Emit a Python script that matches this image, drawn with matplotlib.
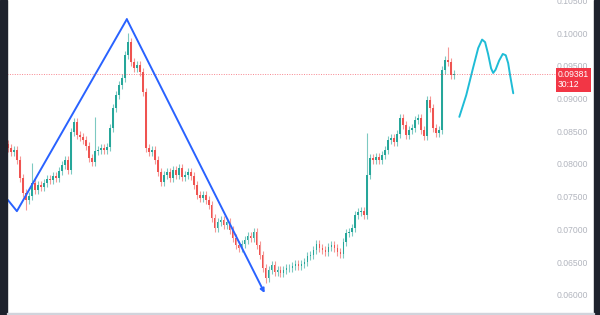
import matplotlib
matplotlib.use("Agg")
import matplotlib.pyplot as plt
from matplotlib.patches import Rectangle

# cours de cloture, une bougie par pas
closes = [0.0824, 0.0818, 0.0821, 0.0806, 0.0779, 0.0756, 0.0745, 0.0751, 0.0771, 0.0760,
          0.0768, 0.0765, 0.0771, 0.0777, 0.0776, 0.0782, 0.0779, 0.0789, 0.0798, 0.0806,
          0.0791, 0.0849, 0.0864, 0.0844, 0.0841, 0.0837, 0.0827, 0.0809, 0.0803, 0.0820,
          0.0821, 0.0824, 0.0821, 0.0826, 0.0855, 0.0885, 0.0905, 0.0921, 0.0931, 0.0966,
          0.0986, 0.0956, 0.0947, 0.0951, 0.0940, 0.0910, 0.0824, 0.0818, 0.0821, 0.0806,
          0.0788, 0.0773, 0.0783, 0.0788, 0.0779, 0.0791, 0.0783, 0.0794, 0.0780, 0.0783,
          0.0788, 0.0782, 0.0768, 0.0753, 0.0748, 0.0753, 0.0745, 0.0737, 0.0718, 0.0702,
          0.0711, 0.0715, 0.0707, 0.0711, 0.0699, 0.0687, 0.0676, 0.0672, 0.0678, 0.0684,
          0.0690, 0.0687, 0.0696, 0.0676, 0.0661, 0.0641, 0.0626, 0.0638, 0.0646, 0.0635,
          0.0638, 0.0634, 0.0638, 0.0641, 0.0641, 0.0644, 0.0647, 0.0644, 0.0647, 0.0650,
          0.0659, 0.0661, 0.0669, 0.0678, 0.0672, 0.0669, 0.0666, 0.0673, 0.0676, 0.0672,
          0.0666, 0.0663, 0.0681, 0.0695, 0.0696, 0.0702, 0.0722, 0.0727, 0.0728, 0.0722,
          0.0783, 0.0809, 0.0806, 0.0811, 0.0806, 0.0814, 0.0821, 0.0837, 0.0840, 0.0834,
          0.0846, 0.0870, 0.0860, 0.0844, 0.0852, 0.0855, 0.0867, 0.0870, 0.0852, 0.0843,
          0.0898, 0.0885, 0.0855, 0.0847, 0.0852, 0.0944, 0.0959, 0.0956, 0.0936, 0.09381]
first_open = 0.0830
spike_highs = {8: 0.0802, 29: 0.0872, 40: 0.1000, 120: 0.0847, 147: 0.0979}
spike_lows = {6: 0.0730, 86: 0.0618}

# figure en zigzag (bleu) et projection (cyan)
zigzag_x = [0, 3, 39.7, 85.7]
zigzag_y = [0.0745, 0.0728, 0.1021, 0.0603]
proj_x = [150.7, 153, 155.3, 157, 158.3, 159.3, 160.3, 161.3, 162, 162.8, 164, 165.2, 166.2, 167, 167.7, 168.7]
proj_y = [0.0872, 0.0905, 0.0947, 0.0977, 0.0990, 0.0986, 0.0968, 0.0946, 0.0939, 0.0944,
          0.0958, 0.0968, 0.0966, 0.0954, 0.0934, 0.0908]

yticks = [0.060, 0.065, 0.070, 0.075, 0.080, 0.085, 0.090, 0.095, 0.100, 0.105]
last_price = closes[-1]
countdown = "30:12"

up_col = '#26a69a'
dn_col = '#ef5350'
wick = 0.0006

fig = plt.figure(figsize=(6, 3.15), dpi=100)
ax = fig.add_axes([7/600, 2/315, 541/600, 313/315])

opens = [first_open] + closes[:-1]
for i, (o, c) in enumerate(zip(opens, closes)):
    col = up_col if c >= o else dn_col
    hi = spike_highs.get(i, max(o, c) + wick)
    lo = spike_lows.get(i, min(o, c) - wick)
    ax.vlines(i, lo, hi, color=col, linewidth=0.8, alpha=0.6)
    ax.bar(i, max(abs(c - o), 0.00008), bottom=min(o, c), width=0.6, color=col, linewidth=0)

# zigzag
ax.plot(zigzag_x[:-1], zigzag_y[:-1], color='#2962ff', linewidth=1.4, solid_capstyle='round')
ax.annotate('', xy=(zigzag_x[-1], zigzag_y[-1]), xytext=(zigzag_x[-2], zigzag_y[-2]),
            arrowprops=dict(arrowstyle='-|>', color='#2962ff', lw=1.4, mutation_scale=6,
                            shrinkA=0, shrinkB=0))
ax.plot(proj_x, proj_y, color='#1fbcd6', linewidth=1.4, solid_capstyle='round',
        solid_joinstyle='round')

# ligne du dernier prix
ax.plot([0, 1.015], [last_price, last_price], transform=ax.get_yaxis_transform(),
        color='#f23645', linestyle=(0, (1, 1.5)), linewidth=0.7, alpha=0.6, clip_on=False)
ax.annotate(f"{last_price:.5f}\n{countdown}", xy=(1, last_price),
            xycoords=('axes fraction', 'data'), xytext=(7.2, -4.6), textcoords='offset points',
            ha='left', va='center', fontsize=6.2, color='white', family='Liberation Sans',
            linespacing=1.15, zorder=2.4,
            bbox=dict(boxstyle='square,pad=0.25', facecolor='#f23645', edgecolor='none'))

ax.set_xlim(-0.3, 180.3)
ax.set_ylim(0.05725, 0.10504)
ax.set_yticks(yticks)
ax.set_yticklabels([f"{v:.5f}" for v in yticks])
ax.yaxis.tick_right()
ax.tick_params(axis='y', length=0, pad=6, labelsize=6.2, labelcolor='#b2b5be')
ax.tick_params(axis='x', length=0, labelbottom=False)
for lab in ax.get_yticklabels():
    lab.set_family('Liberation Sans')
for s in ax.spines.values():
    s.set_visible(False)

# bandes sombres et ligne du bas
fig.patches.append(Rectangle((0, 0), 7/600, 1, transform=fig.transFigure, color='#1e222d'))
fig.patches.append(Rectangle((594/600, 0), 6/600, 1, transform=fig.transFigure, color='#1e222d'))
fig.patches.append(Rectangle((7/600, 1/315), 587/600, 1.5/315, transform=fig.transFigure,
                             color='#d1d4dc'))

fig.savefig('out.png', dpi=100)
